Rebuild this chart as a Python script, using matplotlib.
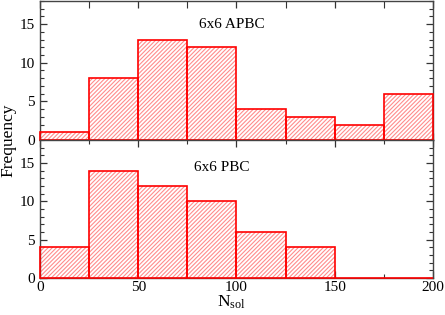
import matplotlib
matplotlib.use("Agg")
import matplotlib.pyplot as plt
import numpy as np
from matplotlib.ticker import MultipleLocator

# histogram bins (N_sol) and counts
bin_edges = [0, 25, 50, 75, 100, 125, 150, 175, 200]
apbc_counts = [1, 8, 13, 12, 4, 3, 2, 6]
pbc_counts = [4, 14, 12, 10, 6, 4, 0, 0]
panel_labels = ["6x6 APBC", "6x6 PBC"]

plt.rcParams["font.family"] = ["Liberation Serif", "DejaVu Serif"]
plt.rcParams["mathtext.fontset"] = "custom"
plt.rcParams["mathtext.rm"] = "Liberation Serif"
plt.rcParams["mathtext.it"] = "Liberation Serif:italic"
plt.rcParams["hatch.linewidth"] = 0.8

fig = plt.figure(figsize=(4.45, 3.15), dpi=100)
ax_top = fig.add_axes([0.0899, 0.5556, 0.8831, 0.4414])
ax_bot = fig.add_axes([0.0899, 0.1175, 0.8831, 0.4381])

left = np.array(bin_edges[:-1])
width = np.diff(bin_edges)

for ax, counts, label, lpos in [
    (ax_top, apbc_counts, panel_labels[0], (97.5, 15)),
    (ax_bot, pbc_counts, panel_labels[1], (92.5, 14.4)),
]:
    ax.bar(left, counts, width=width, align="edge", facecolor="white",
           edgecolor="#ff8c8c", hatch="////////", linewidth=0, zorder=2)
    ax.bar(left, counts, width=width, align="edge", fill=False,
           edgecolor="red", linewidth=1.2, zorder=3, clip_on=False)
    ax.set_xlim(0, 200)
    ax.set_ylim(0, 18)
    ax.xaxis.set_major_locator(MultipleLocator(50))
    ax.xaxis.set_minor_locator(MultipleLocator(25))
    ax.yaxis.set_major_locator(MultipleLocator(5))
    ax.yaxis.set_minor_locator(MultipleLocator(1))
    ax.tick_params(which="both", direction="in", top=True, right=True,
                   color="#333333", labelsize=11)
    ax.tick_params(which="major", length=5, width=0.9)
    ax.tick_params(which="minor", length=3, width=0.8)
    for sp in ax.spines.values():
        sp.set_color("#444444")
        sp.set_linewidth(1.0)
    ax.text(lpos[0], lpos[1], label, ha="center", va="center", fontsize=11)

ax_top.tick_params(labelbottom=False)
ax_top.tick_params(axis="x", which="minor", length=5)
ax_bot.tick_params(axis="x", which="minor", length=3)
ax_bot.tick_params(axis="x", pad=2.5)

fig.text(0.018, 0.556, "Frequency", rotation=90, ha="center", va="center", fontsize=12.5)
fig.text(0.52, 0.026, r"N$_{\rm sol}$", ha="center", va="baseline", fontsize=12.5)

fig.savefig("out.png", dpi=100)
